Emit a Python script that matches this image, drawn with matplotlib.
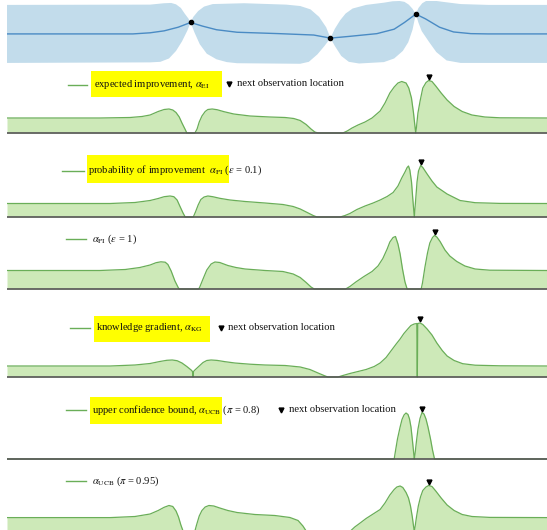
import numpy as np
import matplotlib
matplotlib.use("Agg")
import matplotlib.pyplot as plt
from matplotlib.patches import Rectangle
from matplotlib.transforms import offset_copy

plt.rcParams["font.family"] = ["Liberation Serif", "DejaVu Serif"]
plt.rcParams["mathtext.fontset"] = "stix"

# ---- GP posterior (input scaled to [0, 1]) ----
gp_mean_x = [0.000, 0.233, 0.265, 0.291, 0.317, 0.340, 0.362, 0.388, 0.426, 0.504, 0.568,
             0.599, 0.633, 0.685, 0.717, 0.736, 0.757, 0.775, 0.801, 0.827, 0.859, 0.891, 1.000]
gp_mean_y = [0.00, 0.00, 0.04, 0.11, 0.24, 0.41, 0.28, 0.15, 0.06, 0.01, -0.04,
             -0.15, -0.09, 0.01, 0.17, 0.41, 0.71, 0.54, 0.24, 0.07, 0.01, 0.00, 0.00]
gp_upper_x = [0.000, 0.265, 0.291, 0.304, 0.313, 0.322, 0.329, 0.336, 0.340, 0.345,
              0.354, 0.365, 0.381, 0.439, 0.517, 0.543, 0.562, 0.578, 0.591, 0.599,
              0.607, 0.617, 0.627, 0.640, 0.665, 0.698, 0.714, 0.727, 0.736, 0.744,
              0.751, 0.757, 0.762, 0.769, 0.776, 0.788, 0.807, 0.840, 0.891, 1.000]
gp_upper_y = [1.04, 1.05, 1.10, 1.11, 1.06, 0.93, 0.73, 0.55, 0.41, 0.61,
              0.82, 0.98, 1.07, 1.10, 1.05, 1.00, 0.88, 0.61, 0.24, -0.15,
              0.18, 0.49, 0.73, 0.91, 1.04, 1.12, 1.17, 1.18, 1.15, 1.05,
              0.90, 0.71, 0.93, 1.10, 1.18, 1.20, 1.15, 1.07, 1.04, 1.04]
gp_lower_x = [0.000, 0.265, 0.284, 0.300, 0.313, 0.324, 0.334, 0.340, 0.347, 0.357,
              0.370, 0.388, 0.407, 0.426, 0.543, 0.559, 0.575, 0.588, 0.599, 0.607,
              0.619, 0.633, 0.652, 0.698, 0.717, 0.733, 0.743, 0.751, 0.757, 0.762,
              0.768, 0.782, 0.795, 0.814, 0.840, 0.891, 1.000]
gp_lower_y = [-1.04, -1.02, -1.00, -0.88, -0.61, -0.27, 0.12, 0.41, 0.06, -0.37,
              -0.71, -0.91, -1.01, -1.05, -1.07, -1.00, -0.73, -0.43, -0.15, -0.43,
              -0.79, -1.00, -1.06, -1.01, -0.88, -0.61, -0.30, 0.15, 0.71, 0.40,
              0.10, -0.30, -0.65, -0.95, -1.04, -1.04, -1.04]
obs_x = [0.340, 0.599, 0.757]
obs_y = [0.41, -0.15, 0.71]

# ---- acquisition functions (arbitrary units) ----
ei_x = [0.000, 0.172, 0.228, 0.250, 0.265, 0.280, 0.291, 0.300, 0.307, 0.313,
        0.319, 0.324, 0.330, 0.333, 0.348, 0.352, 0.356, 0.361, 0.367, 0.372,
        0.380, 0.389, 0.402, 0.420, 0.450, 0.487, 0.515, 0.531, 0.543, 0.554,
        0.563, 0.570, 0.576, 0.622, 0.630, 0.639, 0.650, 0.663, 0.676, 0.691,
        0.700, 0.709, 0.717, 0.724, 0.731, 0.739, 0.744, 0.749, 0.7528, 0.7556,
        0.7569, 0.7583, 0.761, 0.765, 0.770, 0.776, 0.781, 0.787, 0.794, 0.804,
        0.815, 0.828, 0.843, 0.861, 0.885, 0.913, 1.000]
ei_y = [15, 15, 15.5, 16.5, 18, 21.5, 23.5, 24, 23, 20.5,
        16, 10, 3.5, 0, 0, 4, 11, 17, 21.5, 23.5,
        24, 23.3, 21.3, 19, 17, 16, 15.5, 14.5, 12.5, 8.5,
        4, 1, 0, 0, 2, 5, 8, 11, 15, 22,
        30, 40, 46, 50, 51.5, 50, 45, 35, 20, 6,
        0, 6, 20, 32, 45, 50.5, 52.5, 51.5, 47, 40,
        33, 26.5, 21.5, 18, 16, 15.2, 15]

pi01_x = [0.000, 0.191, 0.237, 0.265, 0.280, 0.291, 0.302, 0.309, 0.315, 0.320,
          0.326, 0.330, 0.345, 0.349, 0.354, 0.359, 0.365, 0.372, 0.381, 0.394,
          0.413, 0.441, 0.478, 0.511, 0.530, 0.543, 0.556, 0.567, 0.574, 0.617,
          0.626, 0.635, 0.648, 0.663, 0.678, 0.691, 0.704, 0.715, 0.724, 0.731,
          0.737, 0.741, 0.7435, 0.746, 0.7491, 0.7515, 0.7543, 0.7569, 0.7593, 0.7620,
          0.7661, 0.770, 0.778, 0.787, 0.796, 0.815, 0.839, 0.867, 0.913, 1.000]
pi01_y = [13.5, 13.5, 14.5, 16.5, 18.5, 20.3, 21, 20.3, 17, 11,
          4, 0, 0, 5, 12, 17.5, 20, 21, 20.3, 18.7,
          17, 15.5, 14, 12.5, 10.5, 8, 4.5, 1.5, 0, 0,
          1.5, 3.5, 7.5, 11, 14, 17, 20.5, 24.5, 31, 39,
          45, 49.5, 51, 47, 35, 18, 0, 18, 35, 46,
          51.5, 49.5, 43, 36, 30, 23, 16.5, 14.3, 13.6, 13.5]

pi1_x = [0.000, 0.172, 0.219, 0.246, 0.265, 0.276, 0.285, 0.293, 0.298, 0.304,
         0.311, 0.317, 0.319, 0.355, 0.357, 0.363, 0.370, 0.378, 0.385, 0.394,
         0.409, 0.424, 0.441, 0.478, 0.511, 0.530, 0.543, 0.554, 0.563, 0.569,
         0.627, 0.635, 0.646, 0.661, 0.676, 0.687, 0.696, 0.704, 0.709, 0.715,
         0.7194, 0.724, 0.728, 0.7324, 0.737, 0.741, 0.767, 0.7694, 0.774, 0.7787,
         0.783, 0.788, 0.7917, 0.796, 0.802, 0.811, 0.820, 0.833, 0.848, 0.867,
         0.894, 1.000]
pi1_y = [18.5, 18.5, 19.5, 21.5, 24, 26.3, 27.2, 26.8, 24.5, 18,
         8, 1.5, 0, 0, 2, 10, 19, 25, 27, 26.5,
         23.5, 21.5, 20, 18.5, 17.5, 15, 11.5, 6.5, 2, 0,
         0, 2.5, 7, 12.5, 17.5, 23, 30.5, 40, 47, 51.5,
         52.5, 45, 35, 20, 7, 0, 0, 6, 22, 36,
         46, 51.5, 53.5, 52, 47.5, 39, 33, 27.5, 23, 20,
         18.8, 18.5]

kg_x = [0.000, 0.191, 0.237, 0.265, 0.283, 0.296, 0.306, 0.315, 0.324, 0.333,
        0.341, 0.3435, 0.3444, 0.3454, 0.348, 0.356, 0.363, 0.370, 0.378, 0.389,
        0.404, 0.422, 0.450, 0.478, 0.515, 0.543, 0.561, 0.576, 0.587, 0.594,
        0.613, 0.622, 0.635, 0.650, 0.665, 0.680, 0.691, 0.702, 0.711, 0.720,
        0.728, 0.735, 0.743, 0.748, 0.754, 0.7589, 0.7598, 0.7607, 0.765, 0.770,
        0.778, 0.787, 0.796, 0.806, 0.815, 0.828, 0.844, 0.867, 0.913, 1.000]
kg_y = [11, 11, 12, 13.5, 15.5, 16.7, 17, 16.3, 14, 10.5,
        7, 5.5, 0, 5.5, 7, 11, 14.5, 16.5, 17, 16.6,
        15.3, 14, 12.8, 12, 11.5, 10, 7.5, 4, 1.5, 0,
        0, 1.5, 3.5, 5.5, 7.5, 10.5, 14, 19.5, 26, 32.5,
        38, 43.5, 48.5, 51.5, 53, 53.5, 0, 53.5, 54, 52.5,
        48, 42, 34, 26.5, 21, 16.5, 13.3, 11.8, 11.2, 11]

ucb08_x = [0.000, 0.717, 0.7194, 0.7231, 0.728, 0.7315, 0.7352, 0.7389, 0.7426, 0.7454,
           0.7481, 0.7509, 0.7533, 0.7543, 0.7556, 0.7583, 0.7611, 0.7648, 0.7685, 0.7722,
           0.7759, 0.7796, 0.7843, 0.788, 0.7917, 1.000]
ucb08_y = [0, 0, 8, 20, 32, 39.5, 44, 46, 44.5, 40,
           32, 18, 5, 0, 5, 18, 30, 40.5, 46.5, 45,
           40, 32, 20, 9, 0, 0]

ucb095_x = [0.000, 0.191, 0.237, 0.265, 0.280, 0.291, 0.300, 0.307, 0.313, 0.3176,
            0.322, 0.326, 0.348, 0.351, 0.356, 0.361, 0.367, 0.374, 0.383, 0.394,
            0.409, 0.426, 0.459, 0.496, 0.524, 0.539, 0.548, 0.554, 0.636, 0.644,
            0.654, 0.665, 0.678, 0.691, 0.700, 0.709, 0.717, 0.722, 0.728, 0.733,
            0.739, 0.7435, 0.7472, 0.7506, 0.7528, 0.7543, 0.7559, 0.7583, 0.7617, 0.7657,
            0.770, 0.7759, 0.7809, 0.787, 0.794, 0.804, 0.815, 0.828, 0.843, 0.861,
            0.894, 1.000]
ucb095_y = [13.4, 13.4, 14.5, 17, 20.5, 23.7, 25.5, 24.5, 20, 14,
            6, 0, 0, 6, 15, 20.5, 24, 25.5, 25, 23,
            20.5, 18.5, 16.5, 15.5, 13.5, 10.5, 5, 0, 0, 4,
            8, 12.5, 17, 21.5, 28, 36, 41.5, 44, 45, 43.5,
            38.5, 33, 25, 14, 5, 0, 5, 14, 25, 34,
            40.5, 44, 45.5, 44.5, 40, 33, 26, 20.5, 16.5, 14.5,
            13.6, 13.4]

FILL = "#cde9b8"
LINE = "#6aae58"
W, H = 547, 530

fig = plt.figure(figsize=(W / 100, H / 100), dpi=100)


def px_axes(top, bottom, left=7, right=547):
    ax = fig.add_axes([left / W, 1 - bottom / H, (right - left) / W, (bottom - top) / H])
    ax.set_xlim(0, 1)
    ax.axis("off")
    return ax


# GP panel
ax = px_axes(1, 66)
ax.set_ylim(-1.15, 1.18)
ax.fill(np.concatenate([gp_upper_x, gp_lower_x[::-1]]),
        np.concatenate([gp_upper_y, gp_lower_y[::-1]]),
        color="#c2dceb", lw=0)
ax.plot(gp_mean_x, gp_mean_y, color="#4a8bc4", lw=1)
ax.plot(obs_x, obs_y, "o", color="black", ms=3)

# acquisition panels: (x, y, baseline in px)
panels = [
    (ei_x, ei_y, 133),
    (pi01_x, pi01_y, 217),
    (pi1_x, pi1_y, 289),
    (kg_x, kg_y, 377),
    (ucb08_x, ucb08_y, 459),
    (ucb095_x, ucb095_y, 531),
]
for xs, ys, base in panels:
    ax = px_axes(base - 62, base + 2)
    ax.set_ylim(-2, 62)
    ax.fill_between(xs, ys, 0, color=FILL, lw=0)
    ax.plot(xs, ys, color=LINE, lw=0.9)
    ax.axhline(0, color="#555555", lw=1.2)
    i = int(np.argmax(ys))
    tr = offset_copy(ax.transData, fig=fig, y=4, units="dots")
    ax.plot(xs[i], ys[i], marker="v", color="black", ms=3.5, transform=tr, clip_on=False)

# legends drawn in figure pixel space
ov = fig.add_axes([0, 0, 1, 1], zorder=5)
ov.set_xlim(0, W)
ov.set_ylim(H, 0)
ov.axis("off")

TXT = dict(fontsize=7.6, va="center", color="#111111")


def legend_line(x0, x1, y):
    ov.plot([x0, x1], [y, y], color=LINE, lw=1)


def highlight(x0, x1, y0, y1):
    ov.add_patch(Rectangle((x0, y0), x1 - x0, y1 - y0, color="#ffff00", lw=0))


def next_obs(x, y):
    ov.plot(x, y, marker="v", color="black", ms=3.5)
    ov.text(x + 8, y, "next observation location", **TXT)


# EI
legend_line(68, 87, 84.5)
highlight(90.5, 221.5, 71, 97)
ov.text(93.5, 84.5, r"expected improvement, $\alpha_{\rm EI}$", **TXT)
next_obs(229, 84)

# PI eps = 0.1
legend_line(62, 84, 170.5)
highlight(87, 229, 155, 182.5)
ov.text(88, 170.5, r"probability of improvement  $\alpha_{\rm PI}$ ($\epsilon$ = 0.1)", **TXT)

# PI eps = 1
legend_line(66, 85.5, 239)
ov.text(91.5, 239, r"$\alpha_{\rm PI}$ ($\epsilon$ = 1)", **TXT)

# KG
legend_line(70, 90, 328)
highlight(93.5, 209.5, 316, 342)
ov.text(95.5, 328, r"knowledge gradient, $\alpha_{\rm KG}$", **TXT)
next_obs(220.5, 327.5)

# UCB pi = 0.8
legend_line(66, 85.5, 410)
highlight(90, 221.5, 397, 424)
ov.text(92, 410, r"upper confidence bound, $\alpha_{\rm UCB}$ ($\pi$ = 0.8)", **TXT)
next_obs(281, 409.5)

# UCB pi = 0.95
legend_line(66, 85.5, 481)
ov.text(91.5, 481, r"$\alpha_{\rm UCB}$ ($\pi$ = 0.95)", **TXT)

fig.savefig("out.png", dpi=100)
plt.close(fig)
